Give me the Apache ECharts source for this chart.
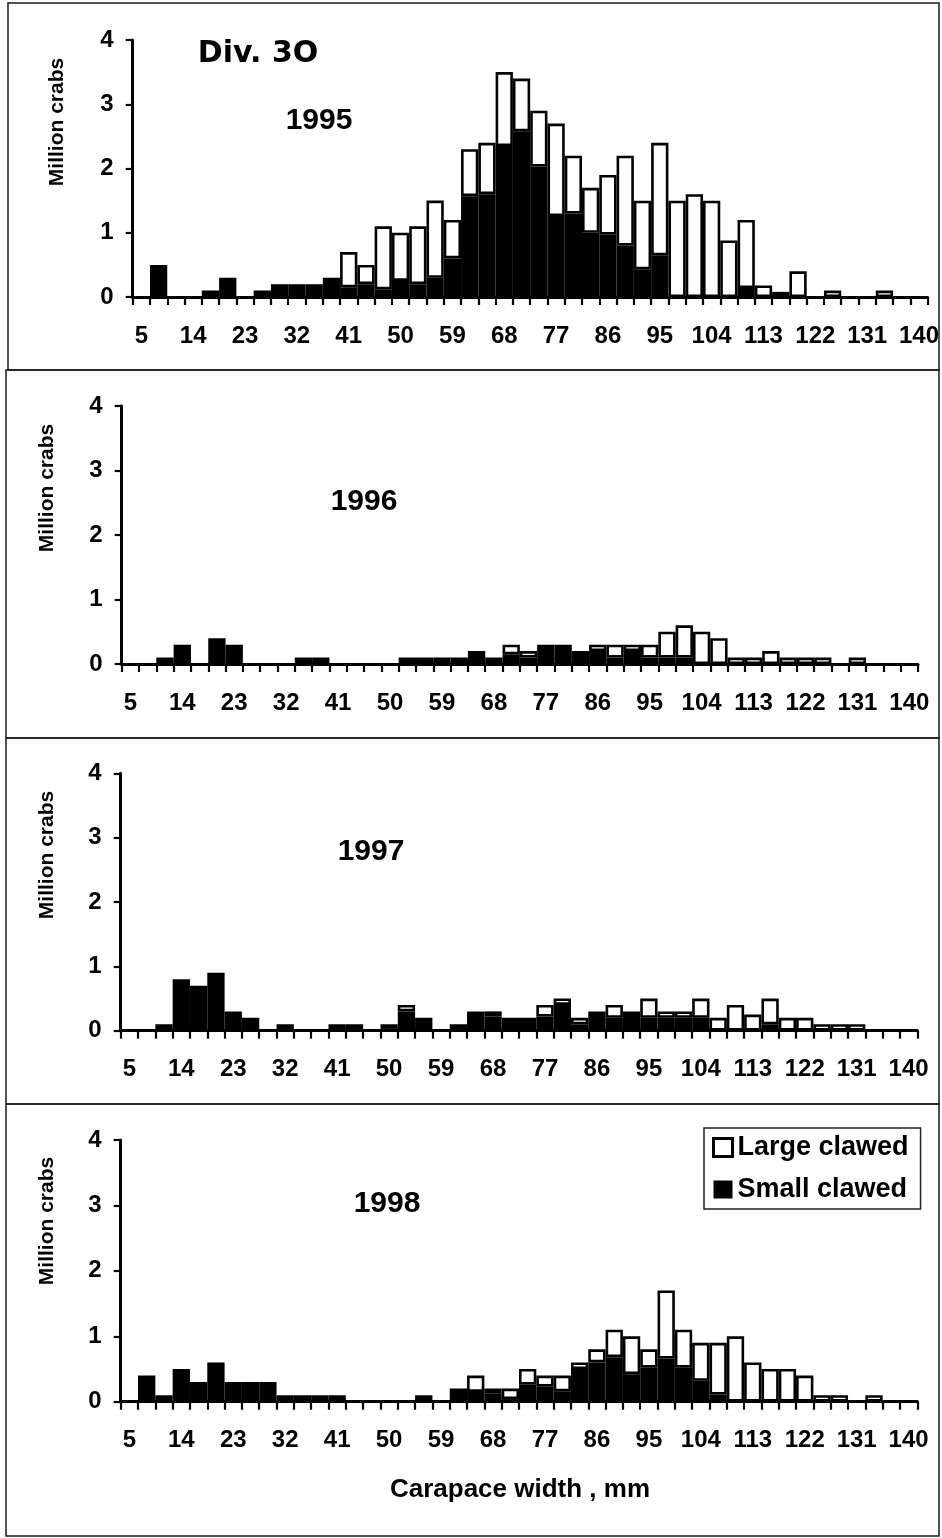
<!DOCTYPE html>
<html>
<head>
<meta charset="utf-8">
<script src="https://cdn.jsdelivr.net/npm/echarts@6/dist/echarts.min.js"></script>
<style>
  html, body { margin: 0; padding: 0; background: #fff; }
  #chart { width: 942px; height: 1538px; }
</style>
</head>
<body>
<div id="chart"></div>
<script>
// Carapace width classes (mm), one bar per class
const widthClasses = [5, 8, 11, 14, 17, 20, 23, 26, 29, 32, 35, 38, 41, 44, 47, 50, 53, 56, 59, 62,
  65, 68, 71, 74, 77, 80, 83, 86, 89, 92, 95, 98, 101, 104, 107, 110, 113, 116, 119, 122,
  125, 128, 131, 134, 137, 140];

const yTicks = [0, 1, 2, 3, 4];

// Million crabs per width class
const small1995 = [0, 0.5, 0, 0, 0.1, 0.3, 0, 0.1, 0.2, 0.2,
  0.2, 0.3, 0.15, 0.2, 0.12, 0.25, 0.2, 0.3, 0.6, 1.57,
  1.6, 2.35, 2.58, 2.03, 1.26, 1.3, 1.0, 0.97, 0.8, 0.43,
  0.65, 0, 0, 0, 0, 0.14, 0, 0, 0, 0,
  0, 0, 0, 0, 0, 0];
const large1995 = [0, 0, 0, 0, 0, 0, 0, 0, 0, 0,
  0, 0, 0.55, 0.3, 0.98, 0.75, 0.9, 1.2, 0.6, 0.73,
  0.8, 1.15, 0.82, 0.87, 1.44, 0.9, 0.7, 0.93, 1.4, 1.07,
  1.75, 1.5, 1.6, 1.5, 0.88, 1.06, 0.18, 0.08, 0.4, 0,
  0.1, 0, 0, 0.1, 0, 0];

const small1996 = [0, 0, 0.1, 0.3, 0, 0.4, 0.3, 0, 0, 0,
  0.1, 0.1, 0, 0, 0, 0, 0.1, 0.1, 0.1, 0.1,
  0.2, 0.1, 0.15, 0.1, 0.3, 0.3, 0.2, 0.2, 0.1, 0.2,
  0.1, 0.1, 0.1, 0, 0, 0, 0, 0, 0, 0,
  0, 0, 0, 0, 0, 0];
const large1996 = [0, 0, 0, 0, 0, 0, 0, 0, 0, 0,
  0, 0, 0, 0, 0, 0, 0, 0, 0, 0,
  0, 0, 0.15, 0.1, 0, 0, 0, 0.1, 0.2, 0.1,
  0.2, 0.4, 0.5, 0.5, 0.4, 0.1, 0.1, 0.2, 0.1, 0.1,
  0.1, 0, 0.1, 0, 0, 0];

const small1997 = [0, 0, 0.1, 0.8, 0.7, 0.9, 0.3, 0.2, 0, 0.1,
  0, 0, 0.1, 0.1, 0, 0.04, 0.3, 0.2, 0, 0.1,
  0.3, 0.22, 0.2, 0.2, 0.22, 0.4, 0.1, 0.3, 0.2, 0.3,
  0.2, 0.2, 0.2, 0.2, 0, 0, 0, 0.1, 0, 0,
  0, 0, 0, 0, 0, 0];
const large1997 = [0, 0, 0, 0, 0, 0, 0, 0, 0, 0,
  0, 0, 0, 0, 0, 0.06, 0.1, 0, 0, 0,
  0, 0.08, 0, 0, 0.18, 0.1, 0.1, 0, 0.2, 0,
  0.3, 0.1, 0.1, 0.3, 0.2, 0.4, 0.25, 0.4, 0.2, 0.2,
  0.1, 0.1, 0.1, 0, 0, 0];

const small1998 = [0, 0.4, 0.1, 0.5, 0.3, 0.6, 0.3, 0.3, 0.3, 0.1,
  0.1, 0.1, 0.1, 0, 0, 0, 0, 0.1, 0, 0.2,
  0.15, 0.12, 0.04, 0.26, 0.23, 0.16, 0.5, 0.6, 0.68, 0.42,
  0.52, 0.66, 0.52, 0.32, 0.11, 0, 0, 0, 0, 0,
  0, 0, 0, 0, 0, 0];
const large1998 = [0, 0, 0, 0, 0, 0, 0, 0, 0, 0,
  0, 0, 0, 0, 0, 0, 0, 0, 0, 0,
  0.25, 0.08, 0.16, 0.24, 0.17, 0.24, 0.1, 0.2, 0.42, 0.58,
  0.28, 1.04, 0.58, 0.58, 0.79, 1.0, 0.6, 0.5, 0.5, 0.4,
  0.1, 0.1, 0, 0.1, 0, 0];

const years = ['1995', '1996', '1997', '1998'];
const smallSeries = [small1995, small1996, small1997, small1998];
const largeSeries = [large1995, large1996, large1997, large1998];

// Layout of the four stacked panels
const FONT = '"Liberation Sans", Arial, Helvetica, sans-serif';
const grids = [
  { left: 132.7, width: 797.3, top: 40, height: 257 },
  { left: 121.7, width: 796.3, top: 406, height: 258 },
  { left: 120.7, width: 796.6, top: 773.3, height: 257.4 },
  { left: 120.7, width: 796.6, top: 1140, height: 261.7 }
];
const yearPos = [[319, 121], [364, 502], [371, 852], [387, 1204]];
const yNamePos = [[57, 122], [47, 488], [47, 855], [47, 1221]];
const frames = [[8, 3, 931, 367], [6, 370, 933, 368], [6, 738, 933, 366], [6, 1104, 933, 432]];

const noZero = arr => arr.map(v => (v === 0 ? '-' : v));

const option = {
  animation: false,
  backgroundColor: '#fff',
  textStyle: { fontFamily: FONT },
  grid: grids.map(g => Object.assign({ containLabel: false }, g)),
  xAxis: grids.map((g, i) => ({
    type: 'category',
    gridIndex: i,
    data: widthClasses,
    boundaryGap: true,
    axisLine: { lineStyle: { color: '#000', width: 3 } },
    axisTick: { show: true, interval: 0, length: 8, lineStyle: { color: '#000', width: 2.2 } },
    axisLabel: { interval: 2, margin: 27, fontSize: 24, fontWeight: 'bold', color: '#000', fontFamily: FONT },
    splitLine: { show: false }
  })),
  yAxis: grids.map((g, i) => ({
    type: 'value',
    gridIndex: i,
    min: yTicks[0],
    max: yTicks[yTicks.length - 1],
    interval: 1,
    axisLine: { show: true, lineStyle: { color: '#000', width: 3 } },
    axisTick: { show: true, length: 7, lineStyle: { color: '#000', width: 2.2 } },
    axisLabel: { margin: 19, fontSize: 24, fontWeight: 'bold', color: '#000', fontFamily: FONT },
    splitLine: { show: false }
  })),
  legend: {
    orient: 'vertical',
    left: 704,
    top: 1128,
    selectedMode: false,
    itemWidth: 19,
    itemHeight: 18,
    itemGap: 15,
    padding: [6, 12, 6, 8],
    borderColor: '#222',
    borderWidth: 1.5,
    textStyle: { fontSize: 27, fontWeight: 'bold', color: '#000', fontFamily: FONT },
    data: [
      { name: 'Large clawed', icon: 'rect', itemStyle: { color: '#fff', borderColor: '#000', borderWidth: 3 } },
      { name: 'Small clawed', icon: 'rect', itemStyle: { color: '#000', borderColor: '#000', borderWidth: 0 } }
    ]
  },
  series: [],
  graphic: []
};

years.forEach((yr, i) => {
  option.series.push({
    type: 'bar',
    name: 'Small clawed',
    xAxisIndex: i,
    yAxisIndex: i,
    stack: 'crabs' + i,
    barCategoryGap: '0%',
    data: noZero(smallSeries[i]),
    itemStyle: { color: '#000', borderColor: '#000', borderWidth: 2.5 },
    emphasis: { disabled: true }
  });
  option.series.push({
    type: 'bar',
    name: 'Large clawed',
    xAxisIndex: i,
    yAxisIndex: i,
    stack: 'crabs' + i,
    barCategoryGap: '0%',
    data: noZero(largeSeries[i]),
    itemStyle: { color: '#fff', borderColor: '#000', borderWidth: 2.6 },
    emphasis: { disabled: true }
  });
});

const textEl = (txt, x, y, font, rot) => ({
  type: 'text',
  x: x,
  y: y,
  rotation: rot || 0,
  z: 10,
  silent: true,
  style: {
    text: txt,
    font: font,
    fill: '#000',
    textAlign: 'center',
    textVerticalAlign: 'middle',
    align: 'center',
    verticalAlign: 'middle'
  }
});

frames.forEach(f => {
  option.graphic.push({
    type: 'rect',
    silent: true,
    z: 0,
    shape: { x: f[0], y: f[1], width: f[2], height: f[3] },
    style: { fill: null, stroke: '#1a1a1a', lineWidth: 1.5 }
  });
});
years.forEach((yr, i) => {
  option.graphic.push(textEl(yr, yearPos[i][0], yearPos[i][1], 'bold 30px ' + FONT));
  option.graphic.push(textEl('Million crabs', yNamePos[i][0], yNamePos[i][1], 'bold 21px ' + FONT, Math.PI / 2));
});
option.graphic.push(textEl('Div. 3O', 258, 54, 'bold 30px "DejaVu Sans", ' + FONT));
option.graphic.push(textEl('Carapace width , mm', 520, 1490, 'bold 26px ' + FONT));

const chart = echarts.init(document.getElementById('chart'), null, { renderer: 'canvas' });
chart.setOption(option);
</script>
</body>
</html>
